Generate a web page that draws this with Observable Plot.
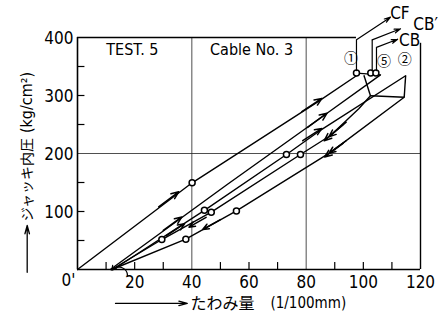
<!DOCTYPE html>
<html><head><meta charset="utf-8">
<script src="https://cdn.jsdelivr.net/npm/d3@7"></script>
<script src="https://cdn.jsdelivr.net/npm/@observablehq/plot@0.6"></script>
<style>body{margin:0;background:#fff;} #chart{width:441px;height:325px;}</style>
</head><body><div id="chart"></div>
<script>
// ---- data (x: 1/100 mm, y: kg/cm2) ----
const lineA  = [[0,0],[40.1,149.5],[83.9,288.5],[98.5,337]];
const lineL1 = [[11.5,0],[52.5,147],[86.2,265.5],[106,335.5]];
const lineL2 = [[12.5,0],[44.4,102],[73.1,198.3],[84.4,238],[114.8,334]];
const lineL3 = [[102.5,299.5],[98.4,277],[88.5,231],[78,198.3],[46.8,98.8],[29.5,51.7],[12,0]];
const lineL5 = [[114.3,297],[88.5,202],[55.6,101],[37.9,52.2],[12,0]];
const topLinks = [
  [[97.6,338.5],[106,335.5]],
  [[100.2,335],[102.5,299.5]],
  [[114.8,334],[114.3,297]],
  [[102.5,299.5],[114.3,297]]
];
const circles = [[40.1,149.5],[44.4,102],[46.8,98.8],[29.5,51.7],[37.9,52.2],[55.6,101],[73.1,198.3],[78,198.3],[97.6,339],[102.6,339],[104.4,339]];
// arrowheads along the curves [x1,y1,x2,y2] (tail point, tip point)
const lineArrows = [
  [28.4,108,35.4,134],[78.5,272,85.5,295],
  [80.5,245,87.3,269.5],[30,67.5,36.5,90.6],
  [78.8,222,85.5,243.2],[31,58,37.5,79],
  [94,254,88,229],[93,250,86.3,222],
  [45,90,39,73],
  [94,222,88,200.5],[93,218,86.5,194],
  [50,86,43.8,69]
];
// leader lines to CF / CB' / CB
const leaderVerticals = [[[97.6,342],[97.6,396]],[[103.1,342],[103.1,396]],[[104.6,342],[104.6,383]]];
const leaderArrows = [[97.6,396,109.5,435],[103.1,396,113,415],[104.6,383,112,397]];
const leaderLabels = [["CF",112.8,440.8],["CB′",121.8,422],["CB",116.2,395]];
const pointLabels = [["①",95.7,363],["⑤",107.2,358.6],["②",114.5,361.6]];
const xTicks = [10,20,30,50,60,70,90,100,110];
const yTicks = [50,100,150,250,300,350];
const xTickLabels = [20,40,60,80,100,120];
const yTickLabels = [100,200,300,400];
const gridX = [40,80];
const gridY = [200];
const panelTexts = [["TEST. 5",19.2,378],["Cable No. 3",60.9,378]];

const segs = a => a.map(([p,q]) => ({x1:p[0],y1:p[1],x2:q[0],y2:q[1]}));
const arr = a => a.map(([x1,y1,x2,y2]) => ({x1,y1,x2,y2}));
const narrow = "'DejaVu Sans Condensed','Liberation Sans Narrow','Roboto',sans-serif";
const jp = "'Noto Sans CJK JP',sans-serif";
const lineOpts = {x: d=>d[0], y: d=>d[1], stroke:"black", strokeWidth:1.4};

const chart = Plot.plot({
  width:441, height:325,
  marginLeft:77, marginRight:21, marginTop:37, marginBottom:56,
  x:{domain:[0,120], axis:null},
  y:{domain:[0,400], axis:null},
  style:{fontFamily:narrow, fontSize:"17px", background:"white", overflow:"visible", color:"black"},
  marks:[
    // grid
    Plot.ruleX(gridX, {y1:0, y2:400, stroke:"#222", strokeWidth:0.8}),
    Plot.ruleY(gridY, {x1:0, x2:120, stroke:"#222", strokeWidth:0.8}),
    // frame
    Plot.ruleY([0], {x1:0, x2:120, stroke:"black", strokeWidth:1.6}),
    Plot.ruleX([0], {y1:0, y2:400, stroke:"black", strokeWidth:1.6}),
    Plot.ruleY([400], {x1:0, x2:97.6, stroke:"black", strokeWidth:1.4}),
    Plot.ruleX([120], {y1:0, y2:390, stroke:"black", strokeWidth:1.4}),
    // inward ticks
    Plot.ruleX(xTicks, {y1:0, y2:12, stroke:"black", strokeWidth:1.2}),
    Plot.ruleY(yTicks, {x1:0, x2:2.6, stroke:"black", strokeWidth:1.2}),
    // tick labels
    Plot.text(xTickLabels, {x:d=>d, y:0, dy:13, text:d=>String(d), fontSize:17}),
    Plot.text(["0'"], {x:0, y:0, dx:-9, dy:11, text:d=>d, fontSize:17}),
    Plot.text(yTickLabels, {x:0, y:d=>d, dx:-4, dy:1, text:d=>String(d), textAnchor:"end", fontSize:17}),
    // curves
    Plot.line(lineA, lineOpts),
    Plot.line(lineL1, lineOpts),
    Plot.line(lineL2, lineOpts),
    Plot.line(lineL3, lineOpts),
    Plot.line(lineL5, lineOpts),
    Plot.link(segs(topLinks), {x1:"x1",y1:"y1",x2:"x2",y2:"y2", stroke:"black", strokeWidth:1.4}),
    Plot.arrow(arr(lineArrows), {x1:"x1",y1:"y1",x2:"x2",y2:"y2", stroke:"black", strokeWidth:1.5, headLength:8, headAngle:45}),
    Plot.dot(circles, {x:d=>d[0], y:d=>d[1], r:3, stroke:"black", strokeWidth:1.5, fill:"white"}),
    // leaders
    Plot.link(segs(leaderVerticals), {x1:"x1",y1:"y1",x2:"x2",y2:"y2", stroke:"black", strokeWidth:1.2}),
    Plot.arrow(arr(leaderArrows), {x1:"x1",y1:"y1",x2:"x2",y2:"y2", stroke:"black", strokeWidth:1.2, headLength:8, headAngle:35}),
    Plot.text(leaderLabels, {x:d=>d[1], y:d=>d[2], text:d=>d[0], fontSize:17}),
    Plot.text(pointLabels, {x:d=>d[1], y:d=>d[2], text:d=>d[0], fontSize:14, fontFamily:jp}),
    // panel texts
    Plot.text(panelTexts, {x:d=>d[1], y:d=>d[2], text:d=>d[0], fontSize:16}),
    // O' hook arrow
    Plot.arrow([{x1:17.5,y1:-11,x2:12,y2:-1}], {x1:"x1",y1:"y1",x2:"x2",y2:"y2", bend:-70, stroke:"black", strokeWidth:1.2, headLength:6}),
    // axis titles
    Plot.arrow([{x1:-17.6,y1:-4.7,x2:-17.6,y2:76}], {x1:"x1",y1:"y1",x2:"x2",y2:"y2", stroke:"black", strokeWidth:1.3, headLength:10, headAngle:30}),
    Plot.text(["ジャッキ内圧"], {x:-17.6, y:155, text:d=>d, rotate:-90, fontSize:14, fontFamily:jp}),
    Plot.text(["(kg/cm²)"], {x:-17.6, y:288, text:d=>d, rotate:-90, fontSize:16}),
    Plot.arrow([{x1:13.3,y1:-58.5,x2:38.4,y2:-58.5}], {x1:"x1",y1:"y1",x2:"x2",y2:"y2", stroke:"black", strokeWidth:1.3, headLength:10, headAngle:30}),
    Plot.text(["たわみ量"], {x:39.5, y:-58.5, text:d=>d, textAnchor:"start", fontSize:16, fontFamily:jp}),
    Plot.text(["(1/100mm)"], {x:67.5, y:-58.5, text:d=>d, textAnchor:"start", fontSize:15})
  ]
});
document.getElementById("chart").appendChild(chart);
</script>
</body></html>
